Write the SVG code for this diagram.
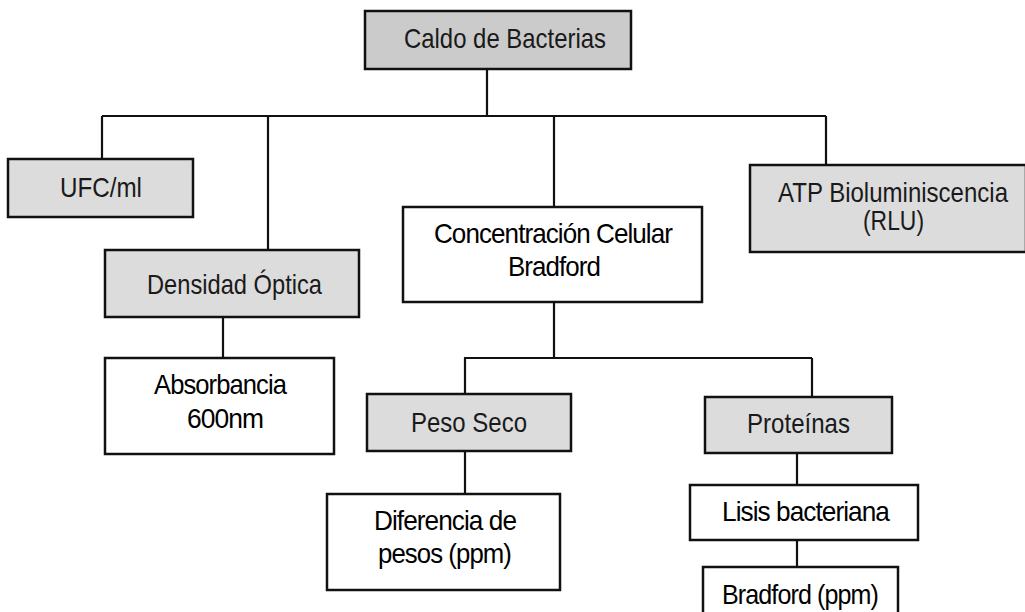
<svg xmlns="http://www.w3.org/2000/svg" width="1025" height="612" viewBox="0 0 1025 612">
<style>
.g{fill:#dcdcdc;stroke:#111;stroke-width:2.5}
.g0{fill:#cbcbcb;stroke:#111;stroke-width:2.5}
.w{fill:#fff;stroke:#111;stroke-width:2.5}
.c{fill:none;stroke:#111;stroke-width:2.2}
text{font-family:"Liberation Sans",Arial,sans-serif;font-size:28px;fill:#1a1a1a}
.b{fill:#000;letter-spacing:-1px}
</style>
<rect width="1025" height="612" fill="#fff"/>
<g id="connectors">
<path class="c" d="M487 69V116M102 116H826M102 116V159M268 116V250M554 116V207M826 116V165"/>
<path class="c" d="M223 317V358"/>
<path class="c" d="M554 303V358M464 358H812M465 358V394M812 358V397"/>
<path class="c" d="M465 451V494"/>
<path class="c" d="M797 453V485M797 540V567"/>
</g>
<g id="caldo"><rect class="g0" x="365" y="11" width="266" height="58"/><text x="404" y="48" textLength="202" lengthAdjust="spacingAndGlyphs">Caldo de Bacterias</text></g>
<g id="ufc"><rect class="g" x="8" y="159" width="185" height="58"/><text x="60" y="197" textLength="82" lengthAdjust="spacingAndGlyphs">UFC/ml</text></g>
<g id="densidad"><rect class="g" x="105" y="250" width="254" height="67"/><text x="147" y="294" textLength="175" lengthAdjust="spacingAndGlyphs">Densidad Óptica</text></g>
<g id="concentracion"><rect class="w" x="403" y="207" width="299" height="95"/><text class="b" x="434" y="243" textLength="238" lengthAdjust="spacingAndGlyphs">Concentración Celular</text><text class="b" x="508" y="276" textLength="92" lengthAdjust="spacingAndGlyphs">Bradford</text></g>
<g id="atp"><rect class="g" x="750" y="165" width="276" height="87"/><text x="778" y="202" textLength="230" lengthAdjust="spacingAndGlyphs">ATP Bioluminiscencia</text><text x="863" y="230" textLength="61" lengthAdjust="spacingAndGlyphs">(RLU)</text></g>
<g id="absorbancia"><rect class="w" x="105" y="358" width="229" height="96"/><text class="b" x="154" y="394" textLength="132" lengthAdjust="spacingAndGlyphs">Absorbancia</text><text class="b" x="187" y="428" textLength="76" lengthAdjust="spacingAndGlyphs">600nm</text></g>
<g id="peso"><rect class="g" x="367" y="394" width="204" height="57"/><text x="411" y="432" textLength="116" lengthAdjust="spacingAndGlyphs">Peso Seco</text></g>
<g id="diferencia"><rect class="w" x="327" y="494" width="233" height="96"/><text class="b" x="374" y="530" textLength="142" lengthAdjust="spacingAndGlyphs">Diferencia de</text><text class="b" x="378" y="563" textLength="133" lengthAdjust="spacingAndGlyphs">pesos (ppm)</text></g>
<g id="proteinas"><rect class="g" x="705" y="397" width="187" height="56"/><text x="747" y="433" textLength="103" lengthAdjust="spacingAndGlyphs">Proteínas</text></g>
<g id="lisis"><rect class="w" x="690" y="485" width="228" height="55"/><text class="b" x="722" y="521" textLength="167" lengthAdjust="spacingAndGlyphs">Lisis bacteriana</text></g>
<g id="bradford"><rect class="w" x="703" y="567" width="195" height="60"/><text class="b" x="722" y="604" textLength="156" lengthAdjust="spacingAndGlyphs">Bradford (ppm)</text></g>
</svg>
